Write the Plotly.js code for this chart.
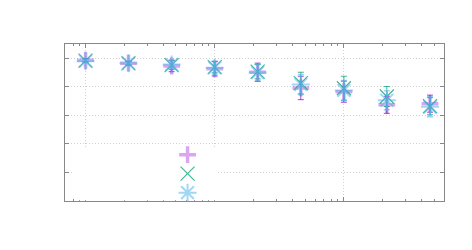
<!DOCTYPE html>
<html>
<head>
<meta charset="utf-8">
<script src="https://cdn.plot.ly/plotly-3.0.1.min.js"></script>
<style>html,body{margin:0;padding:0;background:#fff;}#chart{width:472px;height:250px;}</style>
</head>
<body>
<div id="chart"></div>
<script>
// x positions (log scale)
const xValues = [1, 2.15, 4.64, 10, 21.5, 46.4, 100, 215, 464];
// series values and symmetric errors
const seriesA = [4.93, 4.83, 4.73, 4.63, 4.51, 3.96, 3.83, 3.37, 3.41];
const errorsA = [0.06, 0.07, 0.20, 0.25, 0.32, 0.41, 0.37, 0.30, 0.30];
const seriesB = [4.92, 4.82, 4.76, 4.69, 4.53, 4.13, 3.95, 3.66, 3.32];
const errorsB = [0.06, 0.07, 0.15, 0.20, 0.25, 0.38, 0.42, 0.35, 0.30];
const seriesC = [4.90, 4.83, 4.78, 4.67, 4.50, 4.08, 3.87, 3.53, 3.30];
const errorsC = [0.06, 0.07, 0.15, 0.23, 0.28, 0.35, 0.35, 0.33, 0.35];
const seriesNames = [' ', ' ', ' '];

const traces = [
  {
    x: xValues, y: seriesA, name: seriesNames[0], type: 'scatter', mode: 'markers',
    marker: {symbol: 'cross-thin', size: 12, color: 'rgba(148,0,211,0.35)',
             line: {color: 'rgba(148,0,211,0.35)', width: 3.5}},
    error_y: {type: 'data', array: errorsA, visible: true, color: 'rgba(148,0,211,0.75)', thickness: 1, width: 3}
  },
  {
    x: xValues, y: seriesB, name: seriesNames[1], type: 'scatter', mode: 'markers',
    marker: {symbol: 'x-thin', size: 14, color: 'rgba(0,158,115,0.75)',
             line: {color: 'rgba(0,158,115,0.75)', width: 1.2}},
    error_y: {type: 'data', array: errorsB, visible: true, color: 'rgba(0,158,115,0.75)', thickness: 1, width: 3}
  },
  {
    x: xValues, y: seriesC, name: seriesNames[2], type: 'scatter', mode: 'markers',
    marker: {symbol: 'asterisk', size: 15, color: 'rgba(86,180,233,0.55)',
             line: {color: 'rgba(86,180,233,0.55)', width: 2}},
    error_y: {type: 'data', array: errorsC, visible: true, color: 'rgba(86,180,233,0.6)', thickness: 1.5, width: 3}
  }
];

const axisCommon = {
  showline: true, linecolor: '#888', linewidth: 1, mirror: 'allticks',
  ticks: 'inside', ticklen: 4, tickcolor: '#888', tickwidth: 1,
  showticklabels: false, zeroline: false,
  showgrid: true, gridcolor: '#d0d0d0', griddash: '1px,2px', gridwidth: 1
};

const layout = {
  width: 472, height: 250,
  margin: {l: 65, r: 28, t: 44, b: 49},
  paper_bgcolor: '#fff', plot_bgcolor: '#fff',
  showlegend: true,
  legend: {x: 0.2706, xanchor: 'left', y: 0.3875, yanchor: 'top', bgcolor: 'rgba(0,0,0,0)',
           font: {size: 10, family: 'DejaVu Sans'}, borderwidth: 0},
  shapes: [{type: 'rect', xref: 'paper', yref: 'paper', x0: 0.024, x1: 0.40, y0: 0.004, y1: 0.34,
            fillcolor: '#fff', line: {width: 0}, layer: 'above'}],
  xaxis: Object.assign({}, axisCommon, {
    type: 'log', range: [-0.159, 2.775], dtick: 1,
    minor: {ticks: 'inside', ticklen: 2, dtick: 'D1', tickcolor: '#888', showgrid: false}
  }),
  yaxis: Object.assign({}, axisCommon, {range: [0, 5.5], dtick: 1, tick0: 0})
};

Plotly.newPlot('chart', traces, layout, {displayModeBar: false, staticPlot: true});
</script>
</body>
</html>
